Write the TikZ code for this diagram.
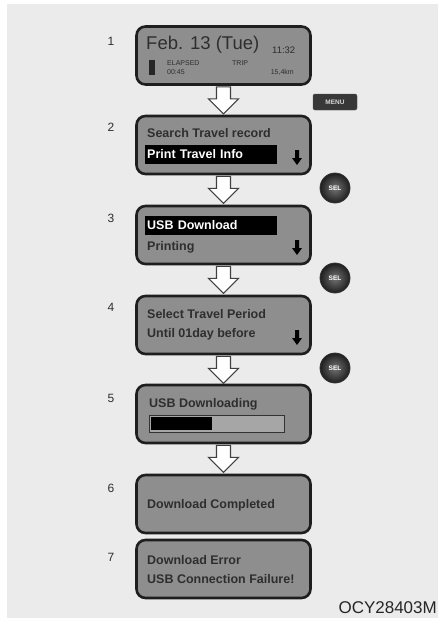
\documentclass[tikz,border=0pt]{standalone}
\usepackage{fontspec}
\setmainfont{Liberation Sans}
\definecolor{bg}{HTML}{EBEBEB}
\definecolor{lcdgray}{HTML}{8E8E8E}
\definecolor{lcdedge}{HTML}{1E1E1E}
\definecolor{txt}{HTML}{2E2E2E}
\begin{document}
\begin{tikzpicture}[x=1pt,y=-1pt,
  lcd/.style={draw=lcdedge,line width=2.6pt,rounded corners=9pt,fill=lcdgray,
    minimum width=174pt,minimum height=58pt,inner sep=0pt},
  num/.style={font=\fontsize{12}{12}\selectfont,text=txt},
  ltxt/.style={anchor=west,font=\fontsize{12.5}{12.5}\selectfont\bfseries,text=txt,inner sep=0pt},
  hbar/.style={anchor=west,fill=black,text=white,font=\fontsize{12.5}{12.5}\selectfont\bfseries,
    minimum width=132pt,minimum height=19pt,text width=128pt,inner sep=2pt,align=left},
  blk/.style={fill=white,draw=black!75,line width=1.1pt,line join=miter},
  selbtn/.style={circle,minimum size=30pt,inner sep=0pt,draw=black!80,line width=0.8pt,
    inner color=black!55,outer color=black!88,text=white,
    font=\fontsize{6.5}{6.5}\selectfont\bfseries},
  dnarrow/.style={fill=black}
]
\path[use as bounding box] (0,0) rectangle (438,618);
\fill[bg] (7,4) rectangle (438,618);

% boxes
\node[lcd] (b1) at (223.5,55.5) {};
\node[lcd] (b2) at (223.5,145) {};
\node[lcd] (b3) at (223.5,235) {};
\node[lcd] (b4) at (223.5,325) {};
\node[lcd] (b5) at (223.5,414) {};
\node[lcd] (b6) at (223.5,504) {};
\node[lcd] (b7) at (223.5,569) {};

% numbers
\node[num] (n1) at (111,41) {1};
\node[num] (n2) at (111,127) {2};
\node[num] (n3) at (111,218) {3};
\node[num] (n4) at (111,307) {4};
\node[num] (n5) at (111,398) {5};
\node[num] (n6) at (111,488) {6};
\node[num] (n7) at (111,557) {7};

% box 1 content
\node[anchor=west,inner sep=0pt,text=txt,font=\fontsize{18.5}{18.5}\selectfont] (t1a) at (146,45) {Feb. 13 (Tue)};
\node[anchor=west,inner sep=0pt,text=txt,font=\fontsize{9.5}{9.5}\selectfont] (t1b) at (272,50) {11:32};
\fill[black!85] (149,60) rectangle (155,75);
\node[anchor=west,inner sep=0pt,text=txt,font=\fontsize{7}{7}\selectfont] (t1c) at (167,63.5) {ELAPSED};
\node[anchor=west,inner sep=0pt,text=txt,font=\fontsize{7}{7}\selectfont] (t1d) at (167,72) {00:45};
\node[anchor=west,inner sep=0pt,text=txt,font=\fontsize{7}{7}\selectfont] (t1e) at (232,63.5) {TRIP};
\node[anchor=east,inner sep=0pt,text=txt,font=\fontsize{7}{7}\selectfont] (t1f) at (294,72.5) {15,4km};

% box 2
\node[ltxt] (t2a) at (147,133) {Search Travel record};
\node[hbar] (t2b) at (145,154.5) {Print Travel Info};
% box 3
\node[hbar] (t3a) at (145,225) {USB Download};
\node[ltxt] (t3b) at (147,247) {Printing};
% box 4
\node[ltxt] (t4a) at (147,314) {Select Travel Period};
\node[ltxt] (t4b) at (147,334) {Until 01day before};
% box 5
\node[ltxt] (t5a) at (149,404) {USB Downloading};
\draw[black!80,line width=0.8pt,fill=black!35] (149,415) rectangle (284,432);
\fill[black] (151,417) rectangle (212,430);
% box 6
\node[ltxt] (t6a) at (147,505) {Download Completed};
% box 7
\node[ltxt] (t7a) at (147,560) {Download Error};
\node[ltxt] (t7b) at (147,579) {USB Connection Failure!};

% small down arrows in screens
\foreach \yy in {158,248,338}{
  \fill[dnarrow] (295,\yy-8) -- (299,\yy-8) -- (299,\yy) -- (302,\yy) -- (297,\yy+7) -- (292,\yy) -- (295,\yy) -- cycle;
}

% block arrows between boxes
\foreach \a/\b in {b1/b2,b2/b3,b3/b4,b4/b5,b5/b6}{
  \draw[blk] (\a.south) ++(-7,1) -- ++(0,12) -- ++(-8,0) -- ++(15,15) -- ++(15,-15) -- ++(-8,0) -- ++(0,-12) -- cycle;
}

% buttons
\node[draw=black!70,fill=black!78,rounded corners=2pt,minimum width=44pt,minimum height=16pt,
  inner sep=0pt,text=white!85!black,font=\fontsize{6.5}{6.5}\selectfont\bfseries] (menu) at (335,102) {MENU};
\node[selbtn] (sel1) at (335,188) {SEL};
\node[selbtn] (sel2) at (335,278) {SEL};
\node[selbtn] (sel3) at (335,368) {SEL};

\node[anchor=base east,inner sep=0pt,font=\fontsize{17}{17}\selectfont,text=black!85] (code) at (437,613) {OCY28403M};
\end{tikzpicture}
\end{document}
